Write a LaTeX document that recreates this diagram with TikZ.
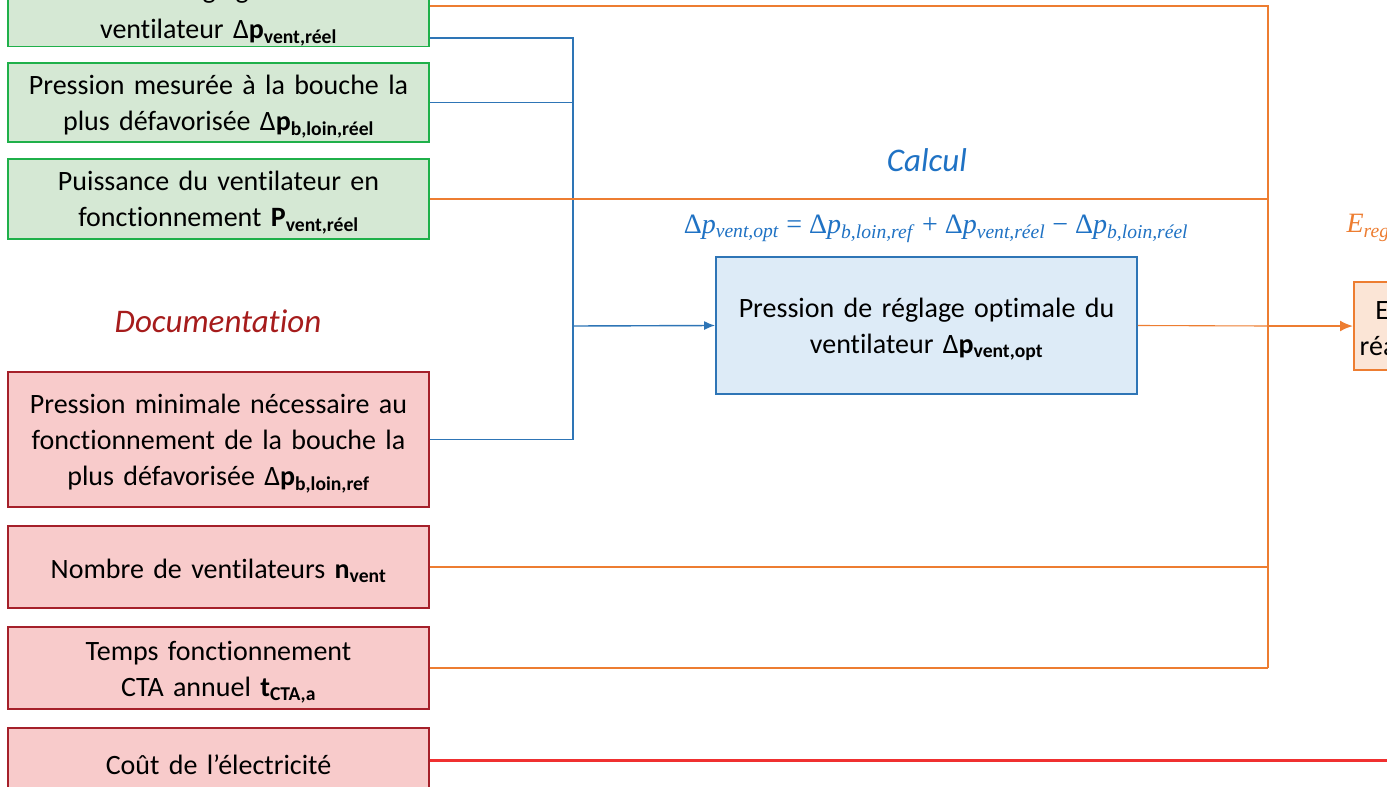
\documentclass[tikz,border=0pt]{standalone}
\usepackage{fontspec}
\setmainfont{Carlito}[Ligatures=NoCommon]
\newfontfamily\eqfont{Liberation Serif}
\usetikzlibrary{arrows.meta}

\definecolor{gfill}{HTML}{D5E8D4}
\definecolor{gline}{HTML}{1FB04A}
\definecolor{rfill}{HTML}{F8CBCB}
\definecolor{rline}{HTML}{A5202A}
\definecolor{bfill}{HTML}{DDEBF7}
\definecolor{bline}{HTML}{2E75B6}
\definecolor{ofill}{HTML}{FBE5D6}
\definecolor{oline}{HTML}{ED7D31}
\definecolor{docred}{HTML}{A61C1C}
\definecolor{calblue}{HTML}{1F72C4}
\definecolor{elec}{HTML}{F03030}

% bold symbol with bold subscript, as in the box labels
\newcommand{\sym}[2]{\textbf{#1}\textsubscript{\textbf{#2}}}
% italic variable with italic subscript, as in the formulas
\newcommand{\var}[2]{\textit{#1}\textsubscript{\textit{#2}}}

\newlength\resline
\newlength\resboxw

\tikzset{
  boxtext/.style={align=center, inner sep=0pt, text width=410pt,
    font=\fontsize{28}{36}\selectfont,
    execute at begin node={\rule{0pt}{27pt}}},
  mesbox/.style={boxtext, draw=gline, fill=gfill, line width=1.8pt, minimum width=421pt},
  docbox/.style={boxtext, draw=rline, fill=rfill, line width=1.8pt, minimum width=421pt},
  calcbox/.style={boxtext, draw=bline, fill=bfill, line width=1.8pt, minimum width=421pt},
  resbox/.style={boxtext, draw=oline, fill=ofill, line width=1.8pt},
  title/.style={font=\fontsize{33}{38}\selectfont\itshape},
  formula/.style={font=\eqfont\fontsize{28}{32}\selectfont},
  bwire/.style={draw=bline, line width=1.1pt},
  owire/.style={draw=oline, line width=1.1pt},
  oarrow/.style={draw=oline, line width=2pt, -{Latex[length=13pt,width=11pt]}},
  barrow/.style={draw=bline, line width=1.4pt, -{Latex[length=11pt,width=9pt]}},
  ewire/.style={draw=elec, line width=3pt},
}

\begin{document}
\settowidth{\resline}{\fontsize{28}{36}\selectfont Economie d’énergie}
\setlength{\resboxw}{\dimexpr\resline+46pt\relax}
\begin{tikzpicture}[x=1pt,y=-1pt]
\useasboundingbox (0,0) rectangle (1387,787);
\clip (0,0) rectangle (1387,787);
\fill[white] (0,0) rectangle (1387,787);

% measured inputs
\node[mesbox, minimum height=72pt] (m1) at (218.5,9)
  {Pression de réglage actuelle du\\[4pt]ventilateur Δ\sym{p}{vent,réel}};
\node[mesbox, minimum height=79pt] (m2) at (218.5,102.5)
  {Pression mesurée à la bouche la\\plus défavorisée Δ\sym{p}{b,loin,réel}};
\node[mesbox, minimum height=80pt] (m3) at (218.5,199)
  {Puissance du ventilateur en\\fonctionnement \sym{P}{vent,réel}};

% documented inputs
\node[title, text=docred] (doc) at (218,321) {Documentation};
\node[docbox, minimum height=135pt] (d1) at (218.5,439.5)
  {Pression minimale nécessaire au\\fonctionnement de la bouche la\\plus défavorisée Δ\sym{p}{b,loin,ref}};
\node[docbox, minimum height=82pt] (d2) at (218.5,567)
  {Nombre de ventilateurs \sym{n}{vent}};
\node[docbox, minimum height=82pt] (d3) at (218.5,668)
  {Temps fonctionnement\\CTA annuel \sym{t}{CTA,a}};
\node[docbox, minimum height=66pt] (d4) at (218.5,761)
  {Coût de l’électricité};

% calculation
\node[title, text=calblue] (cal) at (927,160) {Calcul};
\node[formula, text=calblue] (eq) at (936,229)
  {Δ\var{p}{vent,opt} = Δ\var{p}{b,loin,ref} + Δ\var{p}{vent,réel} − Δ\var{p}{b,loin,réel}};
\node[calcbox, text width=410pt, minimum height=137pt] (opt) at (926.5,325.5)
  {Pression de réglage optimale du\\ventilateur Δ\sym{p}{vent,opt}};

% result
\node[resbox, text width=\resboxw, minimum width=\resboxw,
      minimum height=88pt, anchor=west] (res) at (1353,326)
  {Economie d’énergie\\réalisée par le réglage};
\node[formula, text=oline, anchor=west] (el) at (1343,228)
  {\var{E}{reglage}};

% junctions
\coordinate (bj) at (573,326);
\coordinate (oj) at (1268,326);
\coordinate (otop) at (1268,6);
\coordinate (obot) at (1268,668);
\coordinate (eend) at (1390,760);

% blue collector
\draw[bwire] (m1.east |- 0,38) -| (bj);
\draw[bwire] (m2.east) -| (bj);
\draw[bwire] (d1.east) -| (bj);
\draw[barrow] (bj) -- (opt.west);

% orange collector
\draw[owire] (m1.east |- 0,6) -- (otop) -- (obot);
\draw[owire] (m3.east) -- (m3.east -| oj);
\draw[owire] (opt.east) -- (oj);
\draw[owire] (d2.east) -- (d2.east -| oj);
\draw[owire] (d3.east) -- (obot);
\draw[oarrow] (oj) -- (res.west);

% electricity cost
\draw[ewire] (d4.east |- 0,760) -- (eend);
\end{tikzpicture}
\end{document}
